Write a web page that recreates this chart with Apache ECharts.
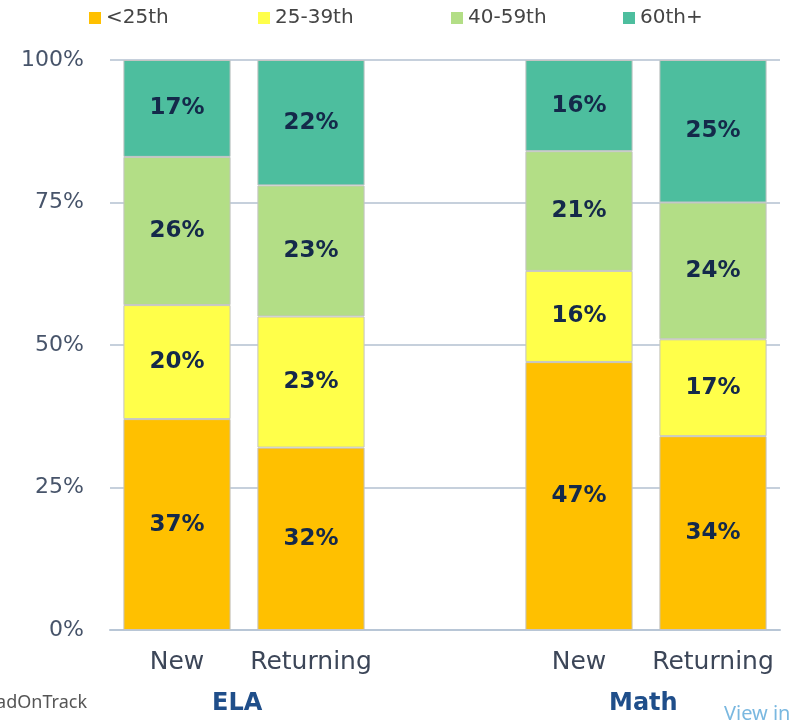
<!DOCTYPE html>
<html>
<head>
<meta charset="utf-8">
<script src="https://cdn.jsdelivr.net/npm/echarts@6/dist/echarts.min.js"></script>
<style>
  html, body { margin: 0; padding: 0; background: #fff; }
  #chart { width: 790px; height: 720px; }
</style>
</head>
<body>
<div id="chart"></div>
<script>
const categories = ["New", "Returning", "", "New", "Returning"];
const groups = ["ELA", "Math"];
const below25 = [37, 32, null, 47, 34];
const p25to39 = [20, 23, null, 16, 17];
const p40to59 = [26, 23, null, 21, 24];
const p60plus = [17, 22, null, 16, 25];
const yTicks = [0, 25, 50, 75, 100];

const seriesDefs = [
  { name: "<25th", data: below25, color: "#FFC000" },
  { name: "25-39th", data: p25to39, color: "#FFFF4A" },
  { name: "40-59th", data: p40to59, color: "#B3DE86" },
  { name: "60th+", data: p60plus, color: "#4DBE9E" }
];

const font = "DejaVu Sans";
const legendLeft = [84, 253, 446, 618];
const chart = echarts.init(document.getElementById("chart"));

const option = {
  animation: false,
  textStyle: { fontFamily: font },
  // one legend per item so each sits where the original puts it
  legend: seriesDefs.map((s, i) => ({
    top: 3,
    left: legendLeft[i],
    itemWidth: 12,
    itemHeight: 12,
    icon: "rect",
    itemStyle: { borderWidth: 0 },
    textStyle: { fontSize: 20, color: "#444", fontFamily: font },
    data: [s.name]
  })),
  grid: { left: 110, right: 10, top: 60, bottom: 90, containLabel: false },
  xAxis: {
    type: "category",
    data: categories,
    axisTick: { show: false },
    axisLine: { lineStyle: { color: "#b8c6d6", width: 2 } },
    axisLabel: { interval: 0, fontSize: 25, color: "#3c4658", margin: 20, fontFamily: font }
  },
  yAxis: {
    type: "value",
    min: yTicks[0],
    max: yTicks[yTicks.length - 1],
    interval: 25,
    axisLine: { show: false },
    axisTick: { show: false },
    axisLabel: { fontSize: 22, color: "#47546a", margin: 26, formatter: "{value}%", fontFamily: font },
    splitLine: { lineStyle: { color: "#c6d0dc", width: 2 } }
  },
  series: seriesDefs.map(s => ({
    name: s.name,
    type: "bar",
    stack: "total",
    barWidth: "80%",
    data: s.data,
    itemStyle: { color: s.color, borderColor: "#c4c4c4", borderWidth: 1 },
    label: {
      show: true,
      position: "inside",
      formatter: p => p.value == null ? "" : p.value + "%",
      fontSize: 23,
      fontWeight: "bold",
      color: "#14294a",
      fontFamily: font
    }
  })),
  graphic: [
    { type: "text", left: 212, top: 692, style: { text: groups[0], fontSize: 24, fontWeight: "bold", fill: "#1f4e8a", fontFamily: font } },
    { type: "text", left: 609, top: 692, style: { text: groups[1], fontSize: 24, fontWeight: "bold", fill: "#1f4e8a", fontFamily: font } },
    { type: "text", right: 703, top: 694, style: { text: "Source: GradOnTrack", fontSize: 18, fill: "#555", fontFamily: "Noto Sans" } },
    { type: "text", left: 724, top: 704, style: { text: "View interactive", fontSize: 20, fill: "#7ab8e0", fontFamily: "Noto Sans" } }
  ]
};

chart.setOption(option);
</script>
</body>
</html>
